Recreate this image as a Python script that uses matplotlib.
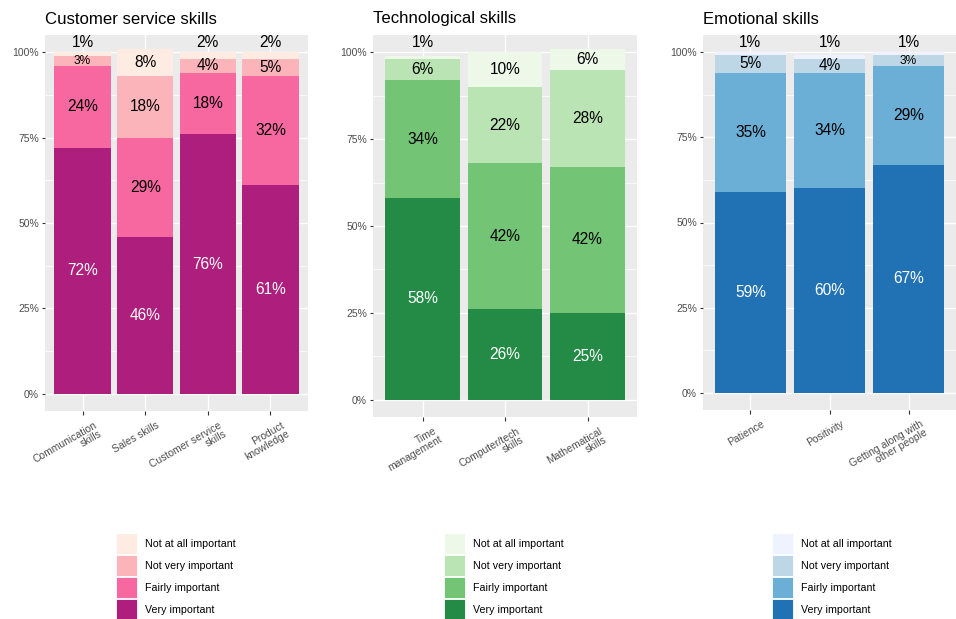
import matplotlib
matplotlib.use("Agg")
import matplotlib.pyplot as plt
from matplotlib.patches import Rectangle
from matplotlib.transforms import blended_transform_factory, ScaledTranslation

plt.rcParams['font.family'] = ['Liberation Sans', 'DejaVu Sans']

levels = ["Not at all important", "Not very important", "Fairly important", "Very important"]

cs_titles = "Customer service skills"
cs_cats = ["Communication\nskills", "Sales skills", "Customer service\nskills", "Product\nknowledge"]
cs_very = [72, 46, 76, 61]
cs_fairly = [24, 29, 18, 32]
cs_notvery = [3, 18, 4, 5]
cs_notatall = [1, 8, 2, 2]
cs_colors = ["#FEEBE2", "#FBB4B9", "#F768A1", "#AD1E7D"]

tech_title = "Technological skills"
tech_cats = ["Time\nmanagement", "Computer/tech\nskills", "Mathematical\nskills"]
tech_very = [58, 26, 25]
tech_fairly = [34, 42, 42]
tech_notvery = [6, 22, 28]
tech_notatall = [1, 10, 6]
tech_colors = ["#EDF8E9", "#BAE4B3", "#74C476", "#238B45"]

emo_title = "Emotional skills"
emo_cats = ["Patience", "Positivity", "Getting along with\nother people"]
emo_very = [59, 60, 67]
emo_fairly = [35, 34, 29]
emo_notvery = [5, 4, 3]
emo_notatall = [1, 1, 1]
emo_colors = ["#EFF3FF", "#BDD7E7", "#6BAED6", "#2171B5"]

yticks = [0, 0.25, 0.5, 0.75, 1.0]
ytick_labels = ["0%", "25%", "50%", "75%", "100%"]

W, H = 956, 619
DPI = 100
fig = plt.figure(figsize=(W / DPI, H / DPI), dpi=DPI)
fig.patch.set_facecolor("white")


def px(v):
    return v * 72.0 / DPI


panels = [
    dict(title=cs_titles, cats=cs_cats,
         series=[cs_very, cs_fairly, cs_notvery, cs_notatall], colors=cs_colors,
         box=(45, 35, 308, 411), leg=(116, 533)),
    dict(title=tech_title, cats=tech_cats,
         series=[tech_very, tech_fairly, tech_notvery, tech_notatall], colors=tech_colors,
         box=(373, 35, 637, 417), leg=(444, 533)),
    dict(title=emo_title, cats=emo_cats,
         series=[emo_very, emo_fairly, emo_notvery, emo_notatall], colors=emo_colors,
         box=(703, 35, 956, 410), leg=(772, 533)),
]

for p in panels:
    l, t, r, b = p["box"]
    ax = fig.add_axes([l / W, 1 - b / H, (r - l) / W, (b - t) / H])
    ax.set_facecolor("#EBEBEB")
    n = len(p["cats"])
    xs = list(range(1, n + 1))
    ax.set_xlim(0.4, n + 0.6)
    ax.set_ylim(-0.05, 1.05)
    for y in yticks:
        ax.axhline(y, color="white", lw=1.0, zorder=0)
    for y in [0.125, 0.375, 0.625, 0.875]:
        ax.axhline(y, color="white", lw=0.5, zorder=0)
    for x in xs:
        ax.axvline(x, color="white", lw=1.0, zorder=0)
    # stacked bars: very at bottom, not at all on top
    order_colors = p["colors"][::-1]  # very, fairly, notvery, notatall
    bottoms = [0.0] * n
    for k, vals in enumerate(p["series"]):
        h = [v / 100.0 for v in vals]
        ax.bar(xs, h, bottom=bottoms, width=0.9, color=order_colors[k],
               linewidth=0, zorder=2)
        for i in range(n):
            v = vals[i]
            if v < 3:
                yy = 1.027
                fs = 11.2
            else:
                yy = bottoms[i] + h[i] / 2
                fs = 8.6 if v == 3 else 11.2
            col = "white" if k == 0 else "black"
            ax.text(xs[i], yy, f"{v}%", ha="center", va="center", fontsize=fs,
                    color=col, zorder=3)
        bottoms = [bottoms[i] + h[i] for i in range(n)]
    for s in ax.spines.values():
        s.set_visible(False)
    ax.set_yticks(yticks)
    ax.set_yticklabels(ytick_labels, fontsize=7.5, color="#4D4D4D")
    ax.tick_params(axis="y", length=px(3.5), width=0.8, color="#333333", pad=px(2.5))
    ax.set_xticks(xs)
    ax.set_xticklabels([""] * n)
    ax.tick_params(axis="x", length=px(3.5), width=0.8, color="#333333")
    trans = blended_transform_factory(ax.transData, ax.transAxes)
    for i, c in enumerate(p["cats"]):
        off = ScaledTranslation(11 / DPI, -9 / DPI, fig.dpi_scale_trans)
        ax.text(xs[i], 0, c, transform=trans + off, rotation=30,
                rotation_mode="anchor", ha="right", va="top",
                multialignment="right", fontsize=7.5, color="#4D4D4D",
                linespacing=0.95)
    fig.text(l / W, 1 - 19 / H, p["title"], fontsize=12.1, ha="left",
             va="center", color="black")
    # legend
    lx, ly = p["leg"]
    for j, (lab, col) in enumerate(zip(levels, p["colors"])):
        y0 = ly + j * 22
        fig.add_artist(Rectangle((lx / W, 1 - (y0 + 21) / H), 21 / W, 21 / H,
                                 transform=fig.transFigure, facecolor=col,
                                 edgecolor="white", linewidth=0.6))
        fig.text((lx + 29) / W, 1 - (y0 + 11) / H, lab, fontsize=7.7,
                 ha="left", va="center", color="black")

fig.savefig("out.png", dpi=DPI)
